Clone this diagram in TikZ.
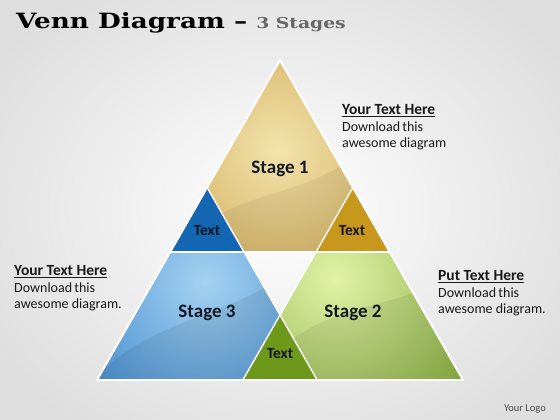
\documentclass[tikz,border=0pt]{standalone}
\usepackage{fontspec}
\setmainfont{Carlito}
\newfontfamily\titlefont[FakeStretch=1.25]{DejaVu Serif}
\definecolor{goldin}{HTML}{F3E3AC}
\definecolor{goldout}{HTML}{C49A40}
\definecolor{goldtxt}{HTML}{C7981C}
\definecolor{bluein}{HTML}{A3D2F2}
\definecolor{blueout}{HTML}{2C78C2}
\definecolor{bluetxt}{HTML}{1367B2}
\definecolor{greenin}{HTML}{E2F2A6}
\definecolor{greenout}{HTML}{76A02E}
\definecolor{greentxt}{HTML}{6C991A}
\definecolor{ink}{HTML}{121826}
\newcommand{\headtxt}[1]{{\bfseries\fontsize{15.5}{16.5}\selectfont\underline{#1}}}
\tikzset{
  stagelbl/.style={font=\bfseries\fontsize{19}{21}\selectfont, text=ink},
  smalllbl/.style={font=\bfseries\fontsize{15.5}{17}\selectfont, text=ink},
  sidetxt/.style={font=\fontsize{14}{16.8}\selectfont, text=black!90, align=left, anchor=north west, inner sep=0pt},
  divider/.style={draw=white, line width=1.4pt, line join=round},
}
\begin{document}
\begin{tikzpicture}[x=1pt,y=-1pt]
\useasboundingbox (0,0) rectangle (560,420);
\shade[inner color=white, outer color=black!13] (-60,-60) rectangle (620,480);
% key points
\coordinate (A) at (280,60);
\coordinate (L) at (97,380);
\coordinate (R) at (463,380);
\coordinate (BL) at (207.09,187.5);
\coordinate (BR) at (352.91,187.5);
\coordinate (HL) at (170.2,252);
\coordinate (HR) at (389.8,252);
\coordinate (C1) at (243.97,252);
\coordinate (C2) at (316.03,252);
\coordinate (X) at (280,315);
\coordinate (G1) at (242.83,380);
\coordinate (G2) at (317.17,380);
% Stage 1
\begin{scope}
\clip (A) -- (BL) -- (C1) -- (C2) -- (BR) -- cycle;
\shade[inner color=goldin, outer color=goldout] (278,150) circle (190);
\fill[black, opacity=0.06] (200,230) .. controls (240,190) and (300,200) .. (365,150) -- (400,260) -- (200,260) -- cycle;
\end{scope}
% Stage 3
\begin{scope}
\clip (L) -- (HL) -- (C1) -- (X) -- (G1) -- cycle;
\shade[inner color=bluein, outer color=blueout] (205,282) circle (200);
\fill[black, opacity=0.07] (95,378) .. controls (150,320) and (220,320) .. (285,275) -- (300,390) -- (90,390) -- cycle;
\end{scope}
% Stage 2
\begin{scope}
\clip (C2) -- (HR) -- (R) -- (G2) -- (X) -- cycle;
\shade[inner color=greenin, outer color=greenout] (335,278) circle (200);
\fill[black, opacity=0.07] (285,345) .. controls (340,300) and (400,310) .. (460,270) -- (470,390) -- (270,390) -- cycle;
\end{scope}
% small triangles
\fill[bluetxt] (HL) -- (BL) -- (C1) -- cycle;
\fill[goldtxt] (C2) -- (BR) -- (HR) -- cycle;
\fill[greentxt] (G1) -- (X) -- (G2) -- cycle;
% dividers
\draw[divider] (HL) -- (HR);
\draw[divider] (BL) -- (G2);
\draw[divider] (BR) -- (G1);
\draw[draw=white, line width=2pt, line join=round] (A) -- (L) -- (R) -- cycle;
% labels
\node[stagelbl] (s1) at (280,169) {Stage 1};
\node[stagelbl] (s3) at (207,313) {Stage 3};
\node[stagelbl] (s2) at (353,313) {Stage 2};
\node[smalllbl] (t1) at (207,231) {Text};
\node[smalllbl] (t2) at (352,231) {Text};
\node[smalllbl] (t3) at (280,354) {Text};
% side texts
\node[sidetxt] (n1) at (342,104) {\headtxt{Your Text Here}\\Download\,this\\awesome diagram};
\node[sidetxt] (n2) at (14,265) {\headtxt{Your Text Here}\\Download\,this\\awesome diagram.};
\node[sidetxt] (n3) at (438,270) {\headtxt{Put Text Here}\\Download\,this\\awesome diagram.};
% title
\node[anchor=base west, inner sep=0pt] (title) at (16,29) {\titlefont\bfseries\fontsize{21}{24}\selectfont Venn Diagram \textcolor{black}{–} \textcolor{black!60}{\fontsize{15}{20}\selectfont 3 Stages}};
\node[anchor=base east, inner sep=0pt, font=\fontsize{10.5}{12}\selectfont, text=black!70] (logo) at (546,411) {Your Logo};
\end{tikzpicture}
\end{document}
